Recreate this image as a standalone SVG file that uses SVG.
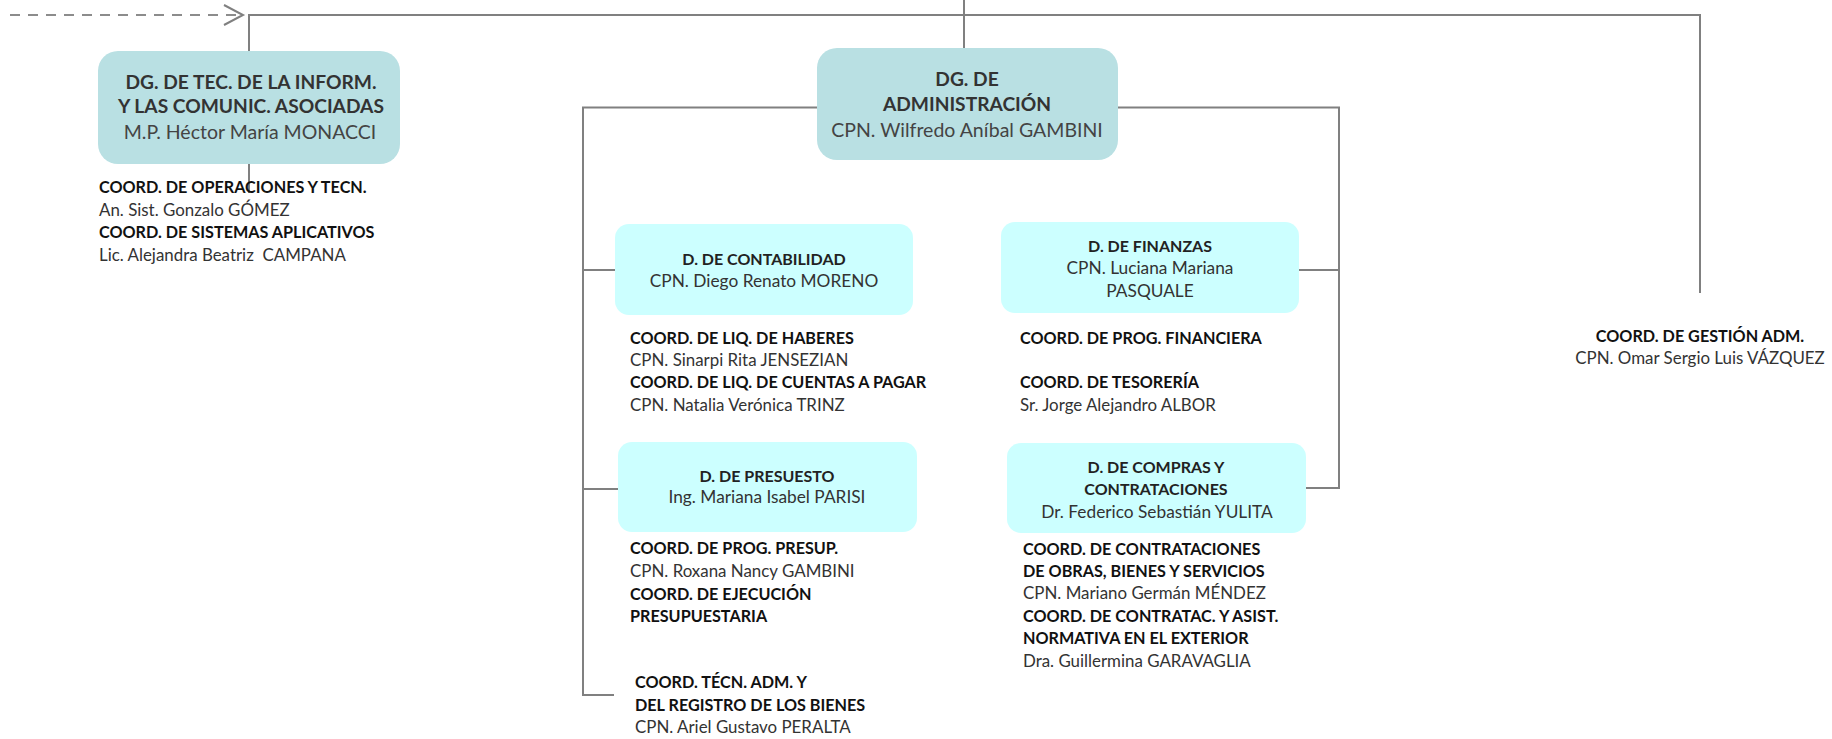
<svg xmlns="http://www.w3.org/2000/svg" width="1832" height="739" viewBox="0 0 1832 739">
<style>
.top{fill:#b9e0e3}
.sub{fill:#ccffff}
text{font-family:Lato,"Liberation Sans",sans-serif}
.c{text-anchor:middle}
.tb{font-weight:bold;font-size:19.2px;fill:#333}
.tn{font-size:19.5px;fill:#444}
.sb{font-weight:bold;font-size:16px;fill:#222}
.sn{font-size:17.3px;fill:#333}
.cb{font-weight:bold;font-size:16.2px;fill:#111}
.cn{font-size:16.9px;fill:#333}
.ln{stroke:#808080;stroke-width:2;fill:none}
.dash{stroke:#8c8c8c;stroke-width:2;fill:none;stroke-dasharray:10 8}
</style>
<rect width="1832" height="739" fill="#ffffff"/>
<g id="connectors">
<path class="dash" d="M10,15 H236"/>
<polyline class="ln" points="224,5 243,15 224,25" stroke="#8c8c8c"/>
<path class="ln" d="M249,193 V15 H1700 V293"/>
<path class="ln" d="M964,0 V48"/>
<path class="ln" d="M614,695 H583 V107.5 H1339 V488 H1305"/>
<path class="ln" d="M583,270 H615"/>
<path class="ln" d="M583,489 H618"/>
<path class="ln" d="M1299,270 H1339"/>
</g>
<g id="dg-tec">
<rect class="top" x="98" y="51" width="302" height="113" rx="20"/>
<text class="c tb" x="251" y="89">DG. DE TEC. DE LA INFORM.</text>
<text class="c tb" x="251" y="113">Y LAS COMUNIC. ASOCIADAS</text>
<text class="c tn" x="250" y="139">M.P. Héctor María MONACCI</text>
<text class="cb" x="99" y="193">COORD. DE OPERACIONES Y TECN.</text>
<text class="cn" x="99" y="216">An. Sist. Gonzalo GÓMEZ</text>
<text class="cb" x="99" y="238">COORD. DE SISTEMAS APLICATIVOS</text>
<text class="cn" x="99" y="261" xml:space="preserve">Lic. Alejandra Beatriz  CAMPANA</text>
</g>
<g id="dg-adm">
<rect class="top" x="817" y="48" width="301" height="112" rx="20"/>
<text class="c tb" x="967" y="86">DG. DE</text>
<text class="c tb" x="967" y="111">ADMINISTRACIÓN</text>
<text class="c tn" x="967" y="137">CPN. Wilfredo Aníbal GAMBINI</text>
</g>
<g id="d-contabilidad">
<rect class="sub" x="615" y="224" width="298" height="91" rx="14"/>
<text class="c sb" x="764" y="265">D. DE CONTABILIDAD</text>
<text class="c sn" x="764" y="287">CPN. Diego Renato MORENO</text>
<text class="cb" x="630" y="344">COORD. DE LIQ. DE HABERES</text>
<text class="cn" x="630" y="366">CPN. Sinarpi Rita JENSEZIAN</text>
<text class="cb" x="630" y="388">COORD. DE LIQ. DE CUENTAS A PAGAR</text>
<text class="cn" x="630" y="411">CPN. Natalia Verónica TRINZ</text>
</g>
<g id="d-finanzas">
<rect class="sub" x="1001" y="222" width="298" height="91" rx="14"/>
<text class="c sb" x="1150" y="252">D. DE FINANZAS</text>
<text class="c sn" x="1150" y="274">CPN. Luciana Mariana</text>
<text class="c sn" x="1150" y="297">PASQUALE</text>
<text class="cb" x="1020" y="344">COORD. DE PROG. FINANCIERA</text>
<text class="cb" x="1020" y="388">COORD. DE TESORERÍA</text>
<text class="cn" x="1020" y="411">Sr. Jorge Alejandro ALBOR</text>
</g>
<g id="d-presupuesto">
<rect class="sub" x="618" y="442" width="299" height="90" rx="14"/>
<text class="c sb" x="767" y="482">D. DE PRESUESTO</text>
<text class="c sn" x="767" y="503">Ing. Mariana Isabel PARISI</text>
<text class="cb" x="630" y="554">COORD. DE PROG. PRESUP.</text>
<text class="cn" x="630" y="577">CPN. Roxana Nancy GAMBINI</text>
<text class="cb" x="630" y="600">COORD. DE EJECUCIÓN</text>
<text class="cb" x="630" y="622">PRESUPUESTARIA</text>
</g>
<g id="coord-tecn-adm">
<text class="cb" x="635" y="688">COORD. TÉCN. ADM. Y</text>
<text class="cb" x="635" y="711">DEL REGISTRO DE LOS BIENES</text>
<text class="cn" x="635" y="733">CPN. Ariel Gustavo PERALTA</text>
</g>
<g id="d-compras">
<rect class="sub" x="1007" y="443" width="299" height="90" rx="14"/>
<text class="c sb" x="1156" y="473">D. DE COMPRAS Y</text>
<text class="c sb" x="1156" y="495">CONTRATACIONES</text>
<text class="c sn" x="1157" y="518">Dr. Federico Sebastián YULITA</text>
<text class="cb" x="1023" y="555">COORD. DE CONTRATACIONES</text>
<text class="cb" x="1023" y="577">DE OBRAS, BIENES Y SERVICIOS</text>
<text class="cn" x="1023" y="599">CPN. Mariano Germán MÉNDEZ</text>
<text class="cb" x="1023" y="622">COORD. DE CONTRATAC. Y ASIST.</text>
<text class="cb" x="1023" y="644">NORMATIVA EN EL EXTERIOR</text>
<text class="cn" x="1023" y="667">Dra. Guillermina GARAVAGLIA</text>
</g>
<g id="coord-gestion">
<text class="c cb" x="1700" y="342">COORD. DE GESTIÓN ADM.</text>
<text class="c cn" x="1700" y="364">CPN. Omar Sergio Luis VÁZQUEZ</text>
</g>
</svg>
